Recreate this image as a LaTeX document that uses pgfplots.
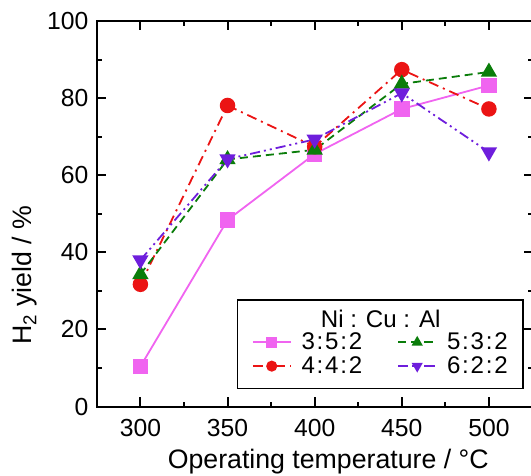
\documentclass[border=0pt]{standalone}
\usepackage{pgfplots}
\pgfplotsset{compat=1.18}
\usepackage{fontspec}
\setmainfont{Liberation Sans}

\definecolor{cpink}{RGB}{240,100,240}
\definecolor{cred}{RGB}{235,20,20}
\definecolor{cgreen}{RGB}{10,125,10}
\definecolor{cpurple}{RGB}{110,30,220}

\newcommand{\rt}[3]{#1\kern0.9pt:\kern0.9pt#2\kern0.9pt:\kern0.9pt#3}

\begin{document}
\begin{tikzpicture}
\begin{axis}[
    name=ax,
    scale only axis,
    width=217pt,
    height=192pt,
    xmin=275.3, xmax=525.3,
    ymin=0, ymax=100,
    xtick={300,350,400,450,500},
    ytick={0,20,40,60,80,100},
    minor xtick={325,375,425,475},
    minor ytick={10,30,50,70,90},
    tick align=inside,
    major tick length=4.5pt,
    minor tick length=2.5pt,
    tick style={line width=1pt, black},
    axis line style={line width=1pt},
    /pgf/number format/assume math mode=true,
    tick label style={font=\fontsize{12.3}{14}\selectfont},
    xticklabel style={yshift=-3pt},
    yticklabel style={xshift=-1pt},
    xlabel={Operating temperature / {\textdegree}C},
    ylabel={H\textsubscript{2} yield / \%},
    label style={font=\fontsize{13.3}{15}\selectfont},
    xlabel style={at={(axis description cs:0.53,-0.143)}, anchor=center},
    ylabel style={at={(axis description cs:-0.166,0.34)}, anchor=center},
    legend cell align=left,
    legend columns=2,
    transpose legend,
    legend style={draw=none, fill=none, font=\fontsize{12}{13}\selectfont,
        at={(axis cs:363.8,7.8)}, anchor=south west,
        inner sep=0pt,
        nodes={inner sep=0pt},
        /tikz/every odd column/.append style={column sep=5pt},
        /tikz/every even column/.append style={column sep=17.5pt},
        row sep=2pt},
    legend image code/.code={%
        \draw[mark repeat=2, mark phase=2, #1]
            plot coordinates {(0cm,0cm) (0.33cm,0cm) (0.66cm,0cm)};},
    legend image post style={mark size=2.3pt},
]
\addplot[color=cpink, line width=0.9pt, solid, mark=square*, mark size=3.4pt,
    mark options={solid}] coordinates {
    (300,10.4) (350,48.4) (400,65.5) (450,77.2) (500,83.3)
};
\addlegendentry{\rt352}
\addplot[color=cred, line width=0.9pt, dash pattern=on 5pt off 2.5pt on 1pt off 2.5pt,
    mark=*, mark size=3.4pt, mark options={solid}] coordinates {
    (300,31.7) (350,78.1) (400,67.4) (450,87.4) (500,77.2)
};
\addlegendentry{\rt442}
\addplot[color=cgreen, line width=0.9pt, dash pattern=on 4pt off 2.5pt,
    mark=triangle*, mark size=3.8pt, mark options={solid}] coordinates {
    (300,34.3) (350,64.1) (400,66.6) (450,83.7) (500,86.8)
};
\addlegendentry{\rt532}
\addplot[color=cpurple, line width=0.9pt,
    dash pattern=on 5pt off 2pt on 1pt off 2pt on 1pt off 2pt,
    mark=triangle*, mark size=3.8pt, mark options={solid, rotate=180}] coordinates {
    (300,38.0) (350,64.2) (400,69.3) (450,81.3) (500,66.0)
};
\addlegendentry{\rt622}
\draw[line width=0.8pt] (axis cs:355.7,27.6) rectangle (axis cs:519.5,4.7);
\node[font=\fontsize{12}{13}\selectfont] at (axis cs:437.9,22.7) {Ni : Cu : Al};
\end{axis}
\pgfresetboundingbox
\path ([xshift=-48.5pt,yshift=-34.5pt]ax.south west) rectangle ([xshift=-1pt,yshift=10.5pt]ax.north east);
\end{tikzpicture}
\end{document}
